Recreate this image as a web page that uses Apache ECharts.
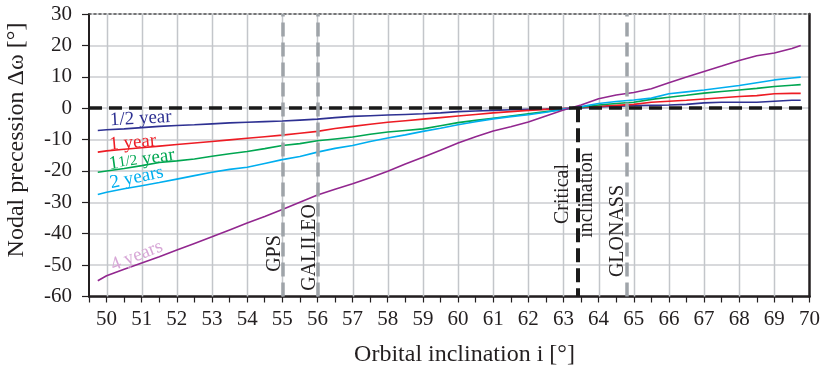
<!DOCTYPE html>
<html><head><meta charset="utf-8">
<script src="https://cdn.jsdelivr.net/npm/echarts@6/dist/echarts.min.js"></script>
<style>html,body{margin:0;padding:0;background:#fff}#c{width:823px;height:365px}</style>
</head><body><div id="c"></div>
<script>
// ---- data ----
const inclination = [49.75,50,50.5,51,51.5,52,52.5,53,53.5,54,54.5,55,55.5,56,56.5,57,57.5,58,58.5,59,59.5,60,60.5,61,61.5,62,62.5,63,63.5,64,64.5,65,65.5,66,66.5,67,67.5,68,68.5,69,69.5,69.75];
const halfYear = [-7.1,-6.9,-6.6,-6.2,-5.8,-5.5,-5.3,-5.0,-4.7,-4.5,-4.3,-4.1,-3.8,-3.5,-3.0,-2.6,-2.4,-2.2,-2.0,-1.8,-1.5,-1.1,-0.9,-0.7,-0.5,-0.4,-0.3,-0.1,0.1,0.4,0.6,0.8,0.9,1.0,1.2,1.7,1.9,1.9,1.9,2.2,2.5,2.5];
const oneYear = [-14.0,-13.6,-13.1,-12.6,-12.1,-11.6,-11.1,-10.6,-10.1,-9.6,-9.1,-8.6,-8.0,-7.4,-6.5,-5.8,-5.1,-4.5,-4.0,-3.5,-3.0,-2.5,-2.0,-1.5,-1.1,-0.7,-0.4,-0.1,0.2,0.6,0.9,1.2,1.9,2.2,2.5,2.9,3.3,3.7,4.0,4.6,4.7,4.7];
const oneHalfYear = [-20.4,-20.0,-19.2,-18.3,-17.3,-16.8,-16.2,-15.3,-14.5,-13.8,-12.9,-11.9,-11.3,-10.4,-9.8,-9.2,-8.3,-7.6,-7.1,-6.6,-5.6,-4.6,-3.9,-3.2,-2.5,-1.8,-1.1,-0.4,0.3,1.0,1.5,1.9,2.8,3.5,4.1,4.8,5.3,5.8,6.3,6.9,7.3,7.5];
const twoYears = [-27.5,-26.8,-25.7,-24.7,-23.7,-22.6,-21.5,-20.4,-19.5,-18.8,-17.6,-16.4,-15.4,-14.0,-12.8,-11.9,-10.6,-9.5,-8.5,-7.4,-6.4,-5.3,-4.3,-3.4,-2.7,-2.1,-1.3,-0.3,0.5,1.5,2.1,2.6,3.2,4.6,5.2,5.8,6.5,7.2,8.1,9.0,9.6,9.9];
const fourYears = [-55.0,-53.4,-51.3,-49.3,-47.3,-45.2,-43.1,-41.0,-38.8,-36.6,-34.5,-32.3,-30.0,-27.7,-25.8,-24.1,-22.2,-20.1,-17.8,-15.6,-13.4,-11.1,-9.1,-7.3,-5.9,-4.4,-2.5,-0.6,1.0,3.0,4.2,5.0,6.2,8.1,9.9,11.7,13.4,15.2,16.7,17.6,19.0,20.0];
const seriesNames = ['1/2 year','1 year','1 1/2 year','2 years','4 years'];
const xTickLabels = [50,51,52,53,54,55,56,57,58,59,60,61,62,63,64,65,66,67,68,69,70];
const satelliteNames = ['GPS','GALILEO','GLONASS'];
const satelliteInclinations = [55,56,64.8];
const criticalInclination = 63.4;
const xMin = 49.5, xMax = 70, yMin = -60, yMax = 30;

// ---- styles / layout ----
const FONT = '"Liberation Serif","Times New Roman",serif';
const INK = '#231f20';
const GRID = '#cbcdd1';
const VGRID = '#c3c6ca';
const colors = ['#2e3192','#ed1c24','#00a651','#00aeef','#92278f'];
const labelColors = ['#2e3192','#ed1c24','#00a651','#00aeef','#d7a6d6'];
const allValues = [halfYear, oneYear, oneHalfYear, twoYears, fourYears];

const chart = echarts.init(document.getElementById('c'), null, {renderer:'canvas'});

const dataSeries = allValues.map((vals, k) => ({
  name: seriesNames[k], type:'line', xAxisIndex:0, yAxisIndex:0,
  data: inclination.map((x,i)=>[x, vals[i]]),
  showSymbol:false, symbol:'none', z:5, silent:true,
  lineStyle:{color:colors[k], width:1.6}
}));

const option = {
  animation:false,
  backgroundColor:'#fff',
  grid:{left:89, right:12, top:14, bottom:68.5, containLabel:false},
  xAxis:[{
    type:'value', min:xMin, max:xMax, interval:0.5, position:'bottom',
    axisLine:{show:true, onZero:false, lineStyle:{color:INK, width:2.5}},
    axisTick:{show:true, inside:false, length:6, lineStyle:{color:INK, width:1.2}},
    axisLabel:{margin:12, fontFamily:FONT, fontSize:21, color:INK,
      formatter: v => (Math.abs(v - Math.round(v)) < 1e-6 ? String(Math.round(v)) : '')},
    splitLine:{show:false}
  },{
    type:'value', min:xMin, max:xMax, position:'top',
    axisLine:{show:true, onZero:false, lineStyle:{color:'#555', width:1.5, type:[2,3]}},
    axisTick:{show:false}, axisLabel:{show:false}, splitLine:{show:false}
  }],
  yAxis:[{
    type:'value', min:yMin, max:yMax, interval:10,
    axisLine:{show:true, onZero:false, lineStyle:{color:INK, width:2}},
    axisTick:{show:true, inside:false, length:7, lineStyle:{color:INK, width:1.2}},
    axisLabel:{margin:17, fontFamily:FONT, fontSize:21, color:INK},
    splitLine:{show:true, lineStyle:{color:GRID, width:1.5}}
  },{
    type:'value', min:yMin, max:yMax, position:'right',
    axisLine:{show:true, onZero:false, lineStyle:{color:INK, width:2.5}},
    axisTick:{show:false}, axisLabel:{show:false}, splitLine:{show:false}
  }],
  series:[
    { // vertical grid lines at whole degrees, drawn beneath the curves
      name:'vgrid', type:'custom', xAxisIndex:0, yAxisIndex:0, z:3, silent:true,
      data: xTickLabels.slice(0,-1).map(v=>[v,0]),
      encode:{x:0, y:1},
      renderItem:(params, api)=>{
        const a = api.coord([api.value(0), yMax]);
        const b = api.coord([api.value(0), yMin]);
        const x = Math.round(a[0]) + 0.5;
        return {type:'line', shape:{x1:x, y1:a[1], x2:x, y2:b[1]}, style:{stroke:VGRID, lineWidth:1.5}};
      }
    },
    ...dataSeries,
    { // reference lines
      name:'ref', type:'line', data:[], xAxisIndex:0, yAxisIndex:0, z:8, silent:true,
      markLine:{silent:true, symbol:['none','none'], label:{show:false}, animation:false, z:8,
        data:[
          {yAxis:0, lineStyle:{color:'#1a1a1a', width:3.5, type:[13,7]}},
          ...satelliteInclinations.map(v=>({xAxis:v, lineStyle:{color:'#9fa4a9', width:3.5, type:[14,6]}})),
          [{coord:[criticalInclination,0], lineStyle:{color:'#1a1a1a', width:4, type:[14,6]}},
           {coord:[criticalInclination,yMin]}]
        ]}
    }
  ]
};
chart.setOption(option);

// ---- text annotations anchored on the data through the axes ----
const px = (x,y) => chart.convertToPixel({gridIndex:0}, [x,y]);
const anchorIdx = 3; // inclination 51
const lblOffsets = [[-1,-9],[-9,-5],[0,-6],[-5,-8],[-5,-7]];
const lblRot = [3,5,8,12,22];
const graphics = [];
allValues.forEach((vals,k)=>{
  const p = px(inclination[anchorIdx], vals[anchorIdx]);
  const isOneHalf = k === 2;
  graphics.push({type:'text', x:p[0]+lblOffsets[k][0], y:p[1]+lblOffsets[k][1], rotation:lblRot[k]*Math.PI/180, z:20, silent:true,
    style:{text: isOneHalf ? '1{s|1/2} year' : seriesNames[k], fill:labelColors[k], font:'19px '+FONT,
      align:'center', verticalAlign:'middle',
      rich: isOneHalf ? {s:{fontSize:15, fontFamily:FONT, fill:labelColors[k]}} : undefined}});
});
const satLabelDx = [-7.5,-8,-9];
const satLabelCy = [253.5,247.5,231];
satelliteNames.forEach((n,k)=>{
  const p = px(satelliteInclinations[k], 0);
  graphics.push({type:'text', x:p[0]+satLabelDx[k], y:satLabelCy[k], rotation:Math.PI/2, z:20, silent:true,
    style:{text:n, fill:INK, font:'20px '+FONT, align:'center', verticalAlign:'middle'}});
});
const pc = px(criticalInclination, 0);
graphics.push({type:'text', x:pc[0]-14.5, y:194, rotation:Math.PI/2, z:20, silent:true,
  style:{text:'Critical', fill:INK, font:'20px '+FONT, align:'center', verticalAlign:'middle'}});
graphics.push({type:'text', x:pc[0]+9, y:195, rotation:Math.PI/2, z:20, silent:true,
  style:{text:'inclination', fill:INK, font:'20px '+FONT, align:'center', verticalAlign:'middle'}});
// axis titles
graphics.push({type:'text', x:464.5, y:355, z:20, silent:true,
  style:{text:'Orbital inclination i [°]', fill:INK, font:'24px '+FONT, align:'center', verticalAlign:'middle'}});
graphics.push({type:'text', x:17, y:140, rotation:Math.PI/2, z:20, silent:true,
  style:{text:'Nodal precession Δω [°]', fill:INK, font:'24px '+FONT, align:'center', verticalAlign:'middle'}});
chart.setOption({graphic:graphics});
</script>
</body></html>
